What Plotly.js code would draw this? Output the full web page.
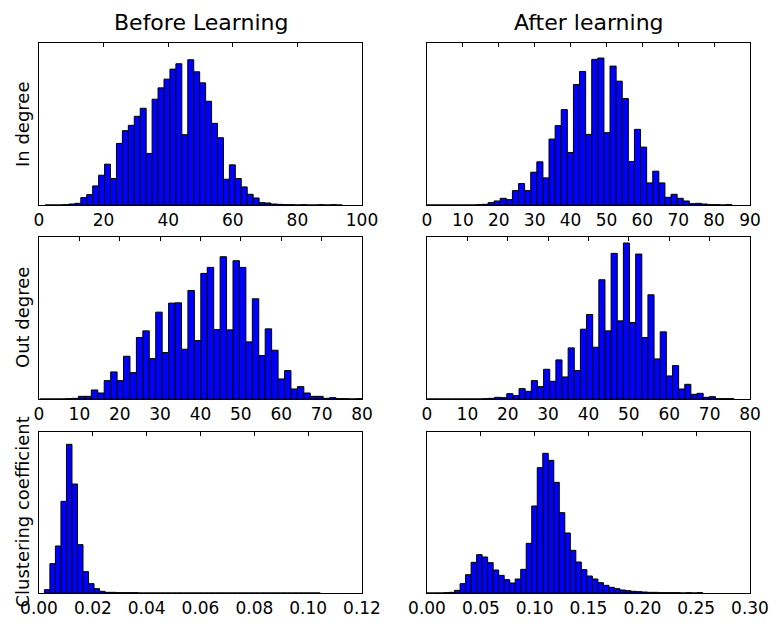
<!DOCTYPE html>
<html>
<head>
<meta charset="utf-8">
<script src="https://cdn.plot.ly/plotly-3.0.1.min.js"></script>
<style>html,body{margin:0;padding:0;background:#fff;}#chart{width:776px;height:626px;}</style>
</head>
<body>
<div id="chart"></div>
<script>
// ---- Data (histogram counts, 50 bins each; relative units) ----
const colTitles = ["Before Learning", "After learning"];
const rowLabels = ["In degree", "Out degree", "Clustering coefficient"];

// In degree, before learning
const inBeforeStart = 1.9, inBeforeWidth = 1.84;
const inBefore = [0,0,0,1,3,5,22,31,57,89,122,79,184,222,238,265,289,154,316,350,376,406,422,210,434,398,365,310,244,201,77,120,79,54,32,21,7,6,3,2,1,1,0,1,0,0,1,0,1,0];
const inBeforeTicks = [0,20,40,60,80,100];

// In degree, after learning
const inAfterStart = 0, inAfterWidth = 1.7;
const inAfter = [0,0,0,0,0,0,0,0,1,2,7,12,20,16,43,64,43,98,129,81,197,237,285,157,360,399,211,435,439,216,415,370,318,130,226,173,66,101,66,23,32,20,12,4,5,3,1,1,0,1];
const inAfterTicks = [0,10,20,30,40,50,60,70,80,90];

// Out degree, before learning
const outBeforeStart = 0.2, outBeforeWidth = 1.595;
const outBefore = [0,0,0,0,1,2,8,8,27,18,55,81,55,128,79,184,204,121,260,139,287,288,149,325,175,376,394,208,426,207,414,394,171,300,130,210,146,60,85,30,37,18,8,8,2,4,1,1,0,1];
const outBeforeTicks = [0,10,20,30,40,50,60,70,80];

// Out degree, after learning
const outAfterStart = 0, outAfterWidth = 1.52;
const outAfter = [0,0,0,0,0,0,0,0,0,1,2,5,4,16,10,31,23,55,37,89,53,117,66,153,85,209,253,155,357,204,436,234,467,229,434,184,312,120,201,69,100,30,44,14,17,5,7,1,1,1];
const outAfterTicks = [0,10,20,30,40,50,60,70,80];

// Clustering coefficient, before learning
const ccBeforeStart = 0.002, ccBeforeWidth = 0.00205;
const ccBefore = [10,88,141,275,446,327,145,64,28,13,5,2,2,1,1,1,1,0,0,0,0,0,0,0,0,0,0,0,0,0,0,0,0,0,0,0,0,0,0,0,0,0,0,0,0,0,0,0,0,0];
const ccBeforeTicks = [0,0.02,0.04,0.06,0.08,0.10,0.12];
const ccBeforeTickText = ["0.00","0.02","0.04","0.06","0.08","0.10","0.12"];

// Clustering coefficient, after learning
const ccAfterStart = 0, ccAfterWidth = 0.00512;
const ccAfter = [0,0,0,1,2,8,28,55,92,115,108,91,69,53,40,30,42,71,149,261,376,419,398,332,241,180,128,93,70,51,42,31,23,17,13,9,7,5,4,3,2,2,1,1,1,1,0,1,0,1];
const ccAfterTicks = [0,0.05,0.10,0.15,0.20,0.25,0.30];
const ccAfterTickText = ["0.00","0.05","0.10","0.15","0.20","0.25","0.30"];

// ---- Build figure ----
const panels = [
  {c: inBefore,  s: inBeforeStart,  w: inBeforeWidth,  xr: [0,100],  tv: inBeforeTicks,  tt: inBeforeTicks.map(String), yr: [0,484]},
  {c: inAfter,   s: inAfterStart,   w: inAfterWidth,   xr: [0,90],   tv: inAfterTicks,   tt: inAfterTicks.map(String), yr: [0,484]},
  {c: outBefore, s: outBeforeStart, w: outBeforeWidth, xr: [0,80],   tv: outBeforeTicks, tt: outBeforeTicks.map(String), yr: [0,485]},
  {c: outAfter,  s: outAfterStart,  w: outAfterWidth,  xr: [0,80],   tv: outAfterTicks,  tt: outAfterTicks.map(String), yr: [0,485]},
  {c: ccBefore,  s: ccBeforeStart,  w: ccBeforeWidth,  xr: [0,0.12], tv: ccBeforeTicks,  tt: ccBeforeTickText, yr: [0,483]},
  {c: ccAfter,   s: ccAfterStart,   w: ccAfterWidth,   xr: [0,0.30], tv: ccAfterTicks,   tt: ccAfterTickText, yr: [0,483]}
];

const W = 776, H = 626;
const colPx = [[39,362],[427,750]];
const rowPx = [[43,205],[237,399],[432,593]];
const font = "DejaVu Sans, Verdana, sans-serif";

const data = [];
const layout = {
  width: W, height: H,
  margin: {l:0, r:0, t:0, b:0},
  paper_bgcolor: "#fff", plot_bgcolor: "#fff",
  showlegend: false, bargap: 0,
  font: {family: font, color: "#000", size: 17},
  annotations: []
};

panels.forEach((p, i) => {
  const n = i + 1;
  const r = Math.floor(i / 2), col = i % 2;
  const xs = p.c.map((_, k) => p.s + (k + 0.5) * p.w);
  const xName = n === 1 ? "x" : "x" + n;
  const yName = n === 1 ? "y" : "y" + n;
  data.push({
    type: "bar", x: xs, y: p.c, width: p.w,
    xaxis: xName, yaxis: yName,
    marker: {color: "#0000ff", line: {color: "#000", width: 1}},
    hoverinfo: "skip"
  });
  const xd = [colPx[col][0] / W, colPx[col][1] / W];
  const yd = [(H - rowPx[r][1]) / H, (H - rowPx[r][0]) / H];
  layout["xaxis" + (n === 1 ? "" : n)] = {
    domain: xd, anchor: yName, range: p.xr,
    tickvals: p.tv, ticktext: p.tt, ticks: "",
    showgrid: false, zeroline: false,
    showline: true, mirror: true, linecolor: "#000", linewidth: 1,
    tickfont: {family: font, size: 17, color: "#000"}
  };
  layout["yaxis" + (n === 1 ? "" : n)] = {
    domain: yd, anchor: xName, range: p.yr,
    showticklabels: false, ticks: "", showgrid: false, zeroline: false,
    showline: true, mirror: true, linecolor: "#000", linewidth: 1
  };
  // overlay axis for inward ticks along the top edge
  const on = n + 6;
  layout["xaxis" + on] = {
    overlaying: xName, anchor: yName, side: "top", range: p.xr,
    tickvals: p.tv, ticks: "inside", ticklen: 4, tickwidth: 1, tickcolor: "#000",
    showticklabels: false, showgrid: false, zeroline: false, showline: false
  };
  data.push({type: "scatter", x: [], y: [], xaxis: "x" + on, yaxis: yName, hoverinfo: "skip"});
});

// column titles
colTitles.forEach((t, c) => {
  layout.annotations.push({
    text: t, xref: "paper", yref: "paper",
    x: (colPx[c][0] + colPx[c][1]) / 2 / W, y: 1 - 22 / H,
    xanchor: "center", yanchor: "middle", showarrow: false,
    font: {family: font, size: 22, color: "#000"}
  });
});
// row labels
rowLabels.forEach((t, r) => {
  layout.annotations.push({
    text: t, xref: "paper", yref: "paper",
    x: 22 / W, y: 1 - (rowPx[r][0] + rowPx[r][1]) / 2 / H,
    xanchor: "center", yanchor: "middle", textangle: -90, showarrow: false,
    font: {family: font, size: 18, color: "#000"}
  });
});

Plotly.newPlot("chart", data, layout, {staticPlot: true, displayModeBar: false});
</script>
</body>
</html>
